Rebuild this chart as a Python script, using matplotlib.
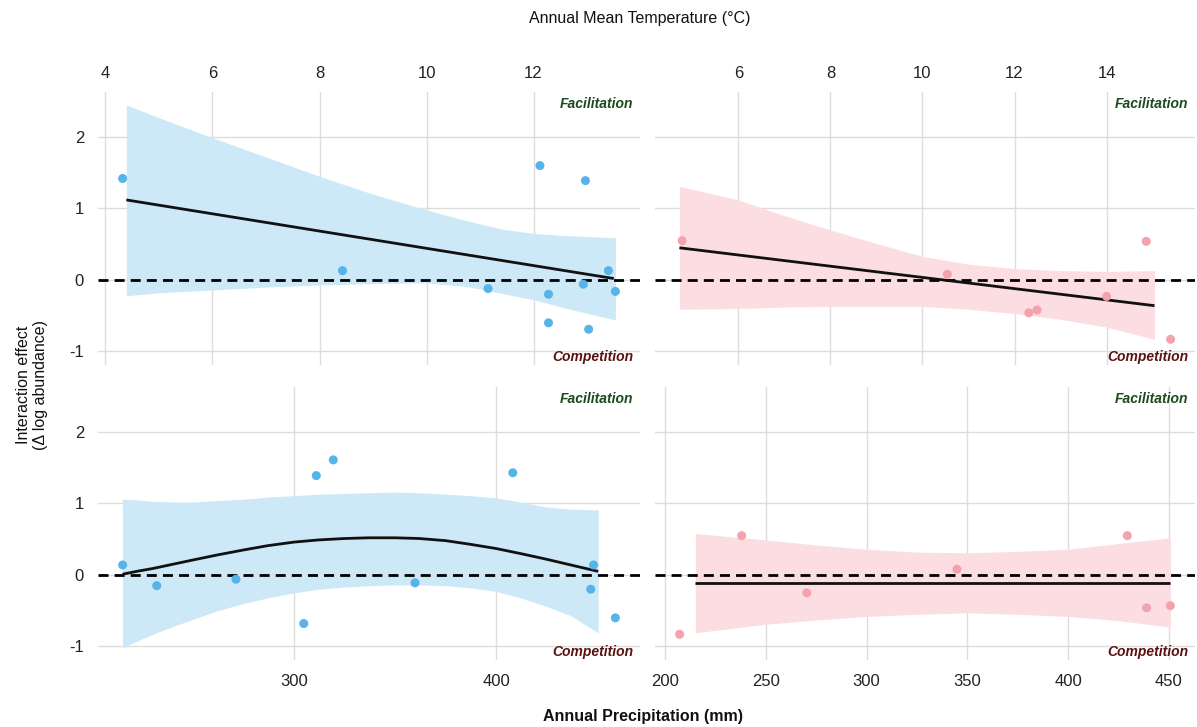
import matplotlib.pyplot as plt

plt.rcParams['font.family'] = ['Liberation Sans', 'DejaVu Sans']
plt.rcParams['axes.unicode_minus'] = False

# ---- top-left: temperature, blue group ----
tl_x = [4.32, 8.43, 11.15, 12.12, 12.28, 12.28, 12.97, 12.93, 13.03, 13.40, 13.53]
tl_y = [1.42, 0.13, -0.12, 1.60, -0.20, -0.60, 1.39, -0.06, -0.69, 0.13, -0.16]
tl_fit_x = [4.39, 13.50]
tl_fit_y = [1.12, 0.02]
tl_band_x = [4.39, 5, 6, 7, 8, 9, 10, 10.74, 11.42, 12.02, 12.62, 13.53]
tl_band_hi = [2.45, 2.27, 1.99, 1.72, 1.45, 1.20, 0.98, 0.83, 0.71, 0.65, 0.62, 0.59]
tl_band_lo = [-0.22, -0.18, -0.14, -0.10, -0.07, -0.05, -0.04, -0.09, -0.19, -0.28, -0.40, -0.56]

# ---- top-right: temperature, pink group ----
tr_x = [4.78, 10.54, 12.31, 12.49, 14.00, 14.86, 15.39]
tr_y = [0.55, 0.08, -0.46, -0.42, -0.23, 0.54, -0.83]
tr_fit_x = [4.72, 15.04]
tr_fit_y = [0.45, -0.36]
tr_band_x = [4.72, 6, 7, 8, 9, 10, 11, 12, 13, 14, 15.04]
tr_band_hi = [1.31, 1.12, 0.90, 0.70, 0.51, 0.33, 0.22, 0.16, 0.13, 0.12, 0.13]
tr_band_lo = [-0.41, -0.40, -0.38, -0.37, -0.37, -0.37, -0.41, -0.47, -0.55, -0.66, -0.83]

# ---- bottom-left: precipitation, blue group ----
bl_x = [215.1, 232.0, 271.2, 304.8, 311.0, 319.4, 359.9, 408.3, 448.3, 446.9, 459.1]
bl_y = [0.14, -0.15, -0.06, -0.68, 1.39, 1.61, -0.11, 1.43, 0.14, -0.20, -0.60]
bl_fit_x = [215, 222, 230, 240, 250, 262, 275, 287, 300, 312, 325, 337, 350,
            362, 375, 387, 400, 412, 425, 437, 450.6]
bl_fit_y = [0.01, 0.05, 0.09, 0.15, 0.21, 0.28, 0.35, 0.41, 0.46, 0.49, 0.51, 0.52, 0.52,
            0.51, 0.48, 0.43, 0.37, 0.30, 0.22, 0.14, 0.05]
bl_band_x = [215, 222, 230, 240, 250, 262, 275, 287, 300, 312, 325, 337, 350,
             362, 375, 387, 400, 412, 425, 437, 450.6]
bl_band_hi = [1.06, 1.05, 1.03, 1.02, 1.02, 1.04, 1.06, 1.09, 1.11, 1.13, 1.14, 1.15, 1.16,
              1.15, 1.13, 1.11, 1.08, 1.02, 0.95, 0.92, 0.91]
bl_band_lo = [-1.02, -0.93, -0.83, -0.72, -0.62, -0.50, -0.40, -0.32, -0.25, -0.20, -0.17, -0.15, -0.14,
              -0.14, -0.15, -0.18, -0.23, -0.32, -0.44, -0.57, -0.81]

# ---- bottom-right: precipitation, pink group ----
br_x = [207.2, 238.0, 270.3, 344.8, 429.3, 438.9, 450.7]
br_y = [-0.83, 0.55, -0.25, 0.08, 0.55, -0.46, -0.43]
br_fit_x = [215.0, 450.7]
br_fit_y = [-0.11, -0.11]
br_band_x = [215, 250, 275, 300, 325, 350, 375, 400, 425, 450.7]
br_band_hi = [0.58, 0.49, 0.42, 0.36, 0.32, 0.31, 0.33, 0.36, 0.44, 0.52]
br_band_lo = [-0.81, -0.69, -0.63, -0.58, -0.55, -0.53, -0.55, -0.58, -0.64, -0.73]

y_ticks = [-1, 0, 1, 2]
ylim = (-1.19, 2.63)

BLUE, BLUE_BAND = '#56B4E9', '#CDE8F6'
PINK, PINK_BAND = '#F4A3AE', '#FCDDE2'

W, H = 1197, 727
fig = plt.figure(figsize=(W / 100, H / 100), dpi=100)


def add_panel(left, right, top, bottom):
    return fig.add_axes([left / W, 1 - bottom / H, (right - left) / W, (bottom - top) / H])


def draw(ax, px, py, fx, fy, bx, blo, bhi, col, band, xlim, xticks, top_axis, show_y):
    ax.fill_between(bx, blo, bhi, color=band, lw=0, zorder=1)
    ax.axhline(0, color='black', lw=2, dashes=(3.6, 2.2), zorder=3)
    ax.plot(fx, fy, color='#111111', lw=2, zorder=4, solid_capstyle='butt')
    ax.scatter(px, py, s=42, color=col, edgecolors='none', zorder=5)
    ax.set_xlim(*xlim)
    ax.set_ylim(*ylim)
    ax.set_xticks(xticks)
    ax.set_yticks(y_ticks)
    ax.grid(True, color='#dddddd', lw=1)
    ax.set_axisbelow(True)
    for s in ax.spines.values():
        s.set_visible(False)
    if top_axis:
        ax.xaxis.tick_top()
        ax.tick_params(axis='x', length=0, pad=8, labelsize=12, colors='#222222')
    else:
        ax.tick_params(axis='x', length=0, pad=10, labelsize=12, colors='#222222')
    ax.tick_params(axis='y', length=0, pad=10, labelsize=12, colors='#222222')
    if not show_y:
        ax.tick_params(axis='y', labelleft=False)
    ax.text(0.987, 0.955, 'Facilitation', transform=ax.transAxes, ha='right', va='center',
            fontsize=10, fontstyle='italic', fontweight='bold', color='#1d4a1d')
    ax.text(0.987, 0.03, 'Competition', transform=ax.transAxes, ha='right', va='center',
            fontsize=10, fontstyle='italic', fontweight='bold', color='#5a1212')


ax1 = add_panel(98, 640, 92, 365)
draw(ax1, tl_x, tl_y, tl_fit_x, tl_fit_y, tl_band_x, tl_band_lo, tl_band_hi, BLUE, BLUE_BAND,
     (3.86, 13.99), [4, 6, 8, 10, 12], True, True)

ax2 = add_panel(655, 1195, 92, 365)
draw(ax2, tr_x, tr_y, tr_fit_x, tr_fit_y, tr_band_x, tr_band_lo, tr_band_hi, PINK, PINK_BAND,
     (4.19, 15.92), [6, 8, 10, 12, 14], True, False)

ax3 = add_panel(98, 640, 387, 660)
draw(ax3, bl_x, bl_y, bl_fit_x, bl_fit_y, bl_band_x, bl_band_lo, bl_band_hi, BLUE, BLUE_BAND,
     (202.9, 471.3), [300, 400], False, True)

ax4 = add_panel(655, 1195, 387, 660)
draw(ax4, br_x, br_y, br_fit_x, br_fit_y, br_band_x, br_band_lo, br_band_hi, PINK, PINK_BAND,
     (195.0, 462.9), [200, 250, 300, 350, 400, 450], False, False)

fig.text(640 / W, 1 - 18 / H, 'Annual Mean Temperature (°C)', ha='center', va='center',
         fontsize=11.5, color='#111111')
fig.text(643 / W, 1 - 716 / H, 'Annual Precipitation (mm)', ha='center', va='center',
         fontsize=11.5, fontweight='bold', color='#111111')
fig.text(32 / W, 1 - 385 / H, 'Interaction effect\n(Δ log abundance)', ha='center', va='center',
         rotation=90, fontsize=11.5, color='#111111', linespacing=1.1)

fig.savefig('out.png', dpi=100, facecolor='white')
